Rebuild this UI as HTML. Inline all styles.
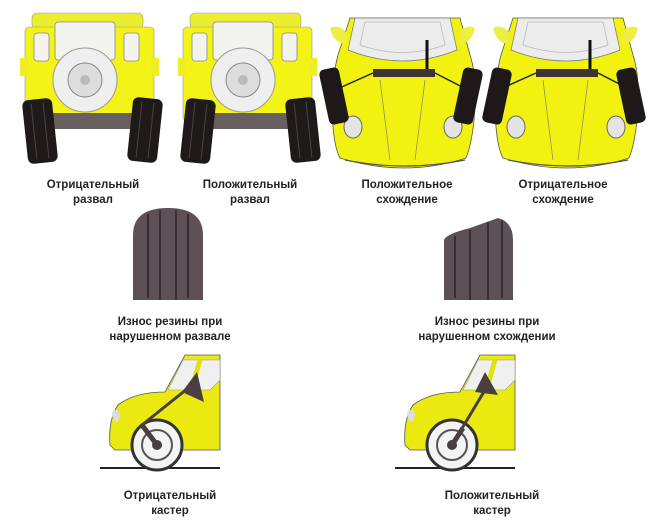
<!DOCTYPE html>
<html><head><meta charset="utf-8"><style>
html,body{margin:0;padding:0;background:#fff;}
.w{position:relative;width:667px;height:523px;overflow:hidden;background:#fff;}
.t{position:absolute;font-family:"Liberation Sans",sans-serif;font-weight:bold;font-size:11.5px;line-height:15px;text-align:center;color:#222;width:180px;}
svg{position:absolute;left:0;top:0;}
</style></head><body><div class="w">
<svg width="667" height="523" viewBox="0 0 667 523">
<defs>
<g id="jeep">
  <rect x="38" y="13" width="111" height="16" rx="5" fill="#eded30" stroke="#999" stroke-width="0.6"/>
  <rect x="31" y="27" width="129" height="94" rx="4" fill="#f3f318" stroke="#999" stroke-width="0.6"/>
  <rect x="26" y="58" width="8" height="18" fill="#eeee28"/>
  <rect x="157" y="58" width="8" height="18" fill="#eeee28"/>
  <rect x="61" y="22" width="60" height="38" rx="3" fill="#f4f4ef" stroke="#888" stroke-width="0.8"/>
  <rect x="40" y="33" width="15" height="28" rx="3" fill="#f4f4ef" stroke="#888" stroke-width="0.8"/>
  <rect x="130" y="33" width="15" height="28" rx="3" fill="#f4f4ef" stroke="#888" stroke-width="0.8"/>
  <rect x="58" y="113" width="80" height="16" fill="#6a5f5f"/>
  <circle cx="91" cy="80" r="32" fill="#efefef" stroke="#999" stroke-width="1"/>
  <circle cx="91" cy="80" r="17" fill="#ddd" stroke="#888" stroke-width="1"/>
  <circle cx="91" cy="80" r="5" fill="#bbb"/>
</g>
<g id="tirev">
  <rect x="-15" y="-32" width="30" height="64" rx="6" fill="#1e1a1a"/>
  <line x1="-6" y1="-28" x2="-6" y2="28" stroke="#4a4242" stroke-width="1"/>
  <line x1="6" y1="-28" x2="6" y2="28" stroke="#4a4242" stroke-width="1"/>
</g>
<g id="carf">
  <path d="M30 18 L140 18 L150 55 C160 85 154 140 146 158 Q85 178 20 158 C10 140 10 85 18 55 Z" fill="#f2f210" stroke="#555" stroke-width="0.8"/>
  <path d="M10 28 q8 -4 16 4 l0 12 q-12 0 -16 -16z" fill="#eeee40"/>
  <path d="M155 28 q-8 -4 -16 4 l0 12 q12 0 16 -16z" fill="#eeee40"/>
  <path d="M35 18 L130 18 L137 50 Q83 72 28 50 Z" fill="#ececec" stroke="#777" stroke-width="0.7"/>
  <path d="M45 22 L120 22 L125 45 Q83 60 40 45 Z" fill="none" stroke="#bbb" stroke-width="0.8"/>
  <line x1="60" y1="80" x2="70" y2="160" stroke="#777" stroke-width="0.6"/>
  <line x1="105" y1="80" x2="95" y2="160" stroke="#777" stroke-width="0.6"/>
  <path d="M25 160 Q85 172 145 160" fill="none" stroke="#555" stroke-width="1.2"/>
  <line x1="107" y1="40" x2="107" y2="70" stroke="#111" stroke-width="3"/>
  <rect x="53" y="69" width="62" height="8" fill="#3e3232"/>
  <ellipse cx="33" cy="127" rx="9" ry="11" fill="#e4e4e4" stroke="#666" stroke-width="1"/>
  <ellipse cx="133" cy="127" rx="9" ry="11" fill="#e4e4e4" stroke="#666" stroke-width="1"/>
</g>
<g id="carside">
  <path d="M0 468 L120 468" stroke="#222" stroke-width="2"/>
  <path d="M120 355 L85 355 L65 392 Q35 392 18 405 Q8 420 10 445 L15 450 L120 450 Z" fill="#eaea10" stroke="#555" stroke-width="0.8"/>
  <path d="M83 360 L68 390 L110 390 L120 380 L120 360Z" fill="#f0f0f0" stroke="#999" stroke-width="0.6"/>
  <line x1="100" y1="360" x2="90" y2="395" stroke="#e2e210" stroke-width="5"/>
  <path d="M12 412 q6 -5 8 2 l-2 8 q-6 0 -6 -10z" fill="#ddd"/>
  <circle cx="57" cy="445" r="25" fill="#f4f4f4" stroke="#333" stroke-width="3"/>
  <circle cx="57" cy="445" r="15" fill="none" stroke="#555" stroke-width="2"/>
  <circle cx="57" cy="445" r="5" fill="#4a3e3e"/>
</g>
</defs>

<use href="#jeep" x="-6" y="0"/>
<g transform="translate(40,131) rotate(-6)"><use href="#tirev"/></g>
<g transform="translate(145,130) rotate(6)"><use href="#tirev"/></g>

<use href="#jeep" x="152" y="0"/>
<g transform="translate(198,131) rotate(6)"><use href="#tirev"/></g>
<g transform="translate(303,130) rotate(-6)"><use href="#tirev"/></g>

<g transform="translate(320,0)">
  <use href="#carf"/>
  <line x1="53" y1="73" x2="15" y2="90" stroke="#222" stroke-width="1.5"/>
  <line x1="115" y1="73" x2="148" y2="90" stroke="#222" stroke-width="1.5"/>
  <g transform="translate(14,96) rotate(-12)"><rect x="-10" y="-28" width="20" height="56" rx="5" fill="#1e1818"/></g>
  <g transform="translate(148,96) rotate(12)"><rect x="-10" y="-28" width="20" height="56" rx="5" fill="#1e1818"/></g>
</g>
<g transform="translate(483,0)">
  <use href="#carf"/>
  <line x1="53" y1="73" x2="15" y2="90" stroke="#222" stroke-width="1.5"/>
  <line x1="115" y1="73" x2="148" y2="90" stroke="#222" stroke-width="1.5"/>
  <g transform="translate(14,96) rotate(12)"><rect x="-10" y="-28" width="20" height="56" rx="5" fill="#1e1818"/></g>
  <g transform="translate(148,96) rotate(-12)"><rect x="-10" y="-28" width="20" height="56" rx="5" fill="#1e1818"/></g>
</g>

<path d="M133 300 L133 235 Q133 208 168 208 Q203 208 203 235 L203 300 Z" fill="#5d5157"/>
<g stroke="#2a2226" stroke-width="1.5">
<line x1="148" y1="214" x2="148" y2="298"/><line x1="160" y1="210" x2="160" y2="300"/><line x1="176" y1="210" x2="176" y2="300"/><line x1="188" y1="214" x2="188" y2="298"/>
</g>
<path d="M444 300 L444 240 Q446 234 470 228 L498 218 Q513 222 513 240 L513 300 Z" fill="#5d5157"/>
<g stroke="#2a2226" stroke-width="1.5">
<line x1="455" y1="236" x2="455" y2="298"/><line x1="470" y1="230" x2="470" y2="300"/><line x1="488" y1="222" x2="488" y2="300"/><line x1="502" y1="220" x2="502" y2="298"/>
</g>

<g transform="translate(100,0)">
  <use href="#carside"/>
  <line x1="57" y1="445" x2="42" y2="425" stroke="#4a3e3e" stroke-width="5"/>
  <line x1="42" y1="425" x2="92" y2="385" stroke="#4a3e3e" stroke-width="3"/>
  <path d="M97 372 L104 402 L82 392 Z" fill="#4a3e3e"/>
</g>
<g transform="translate(395,0)">
  <use href="#carside"/>
  <line x1="57" y1="445" x2="68" y2="428" stroke="#4a3e3e" stroke-width="5"/>
  <line x1="57" y1="445" x2="90" y2="390" stroke="#4a3e3e" stroke-width="3"/>
  <path d="M90 372 L103 395 L80 392 Z" fill="#4a3e3e"/>
</g>
</svg>
<div class="t" style="left:3px;top:178px">Отрицательный<br>развал</div>
<div class="t" style="left:160px;top:178px">Положительный<br>развал</div>
<div class="t" style="left:317px;top:178px">Положительное<br>схождение</div>
<div class="t" style="left:473px;top:178px">Отрицательное<br>схождение</div>
<div class="t" style="left:60px;top:315px;width:220px">Износ резины при<br>нарушенном развале</div>
<div class="t" style="left:377px;top:315px;width:220px">Износ резины при<br>нарушенном схождении</div>
<div class="t" style="left:80px;top:489px">Отрицательный<br>кастер</div>
<div class="t" style="left:402px;top:489px">Положительный<br>кастер</div>
</div></body></html>
